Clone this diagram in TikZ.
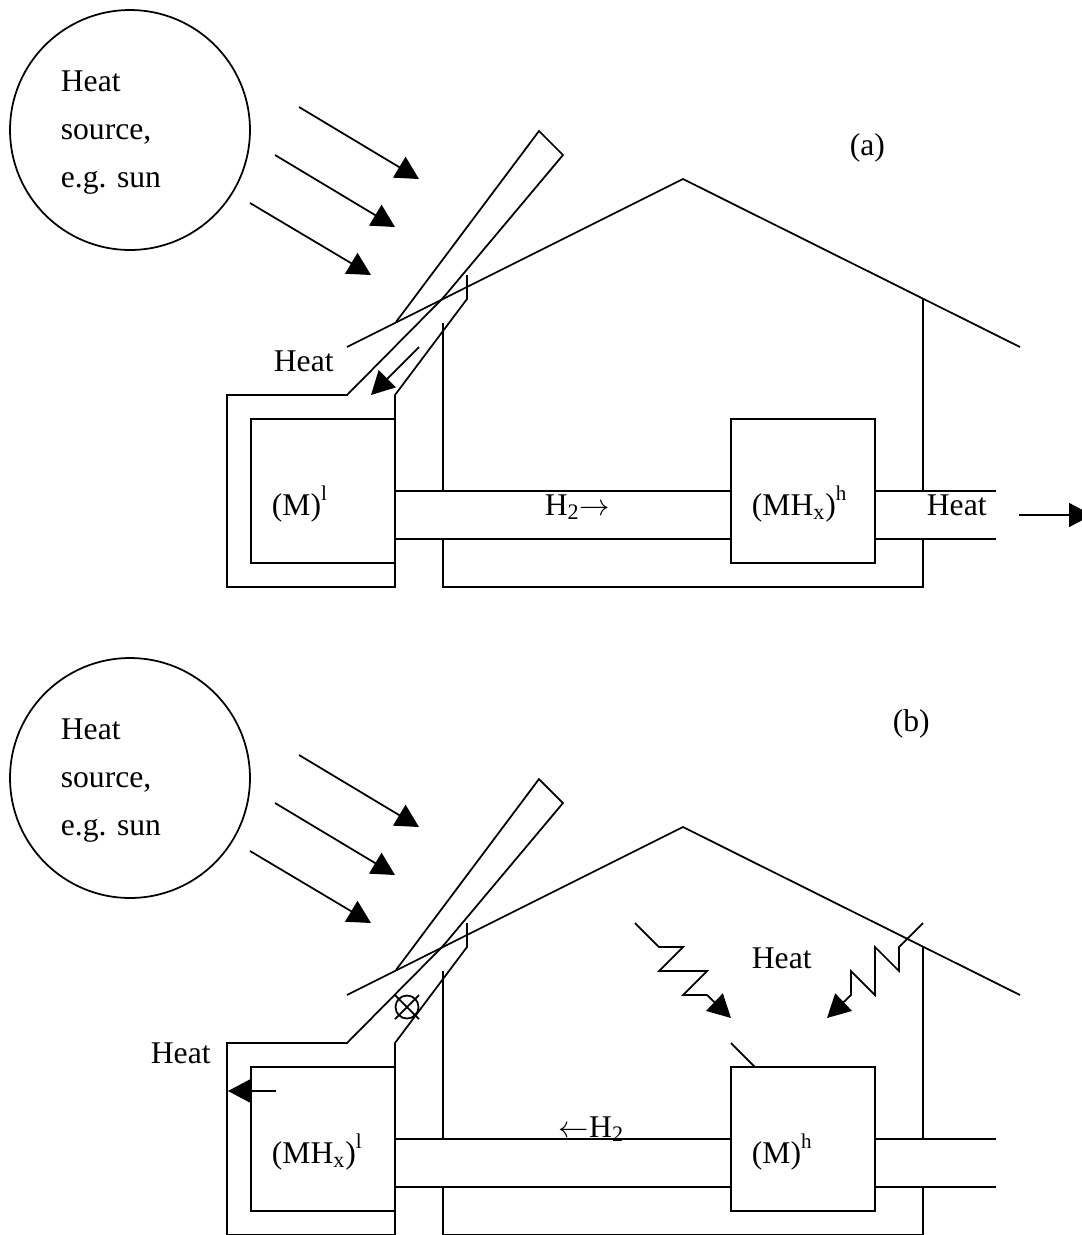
\documentclass[tikz,border=0pt]{standalone}
\usepackage{fontspec}
\setmainfont{Liberation Serif}
\usetikzlibrary{positioning,calc,arrows.meta}

\newcommand{\supr}[1]{\raisebox{8.5pt}{\fontsize{12}{12}\selectfont #1}}

\begin{document}
\begin{tikzpicture}[x=0.02cm,y=-0.02cm,line width=1pt,
    txt/.style={anchor=base west,inner sep=0pt,font=\fontsize{18}{22}\selectfont},
    box/.style={rectangle,draw,minimum width=2.88cm,minimum height=2.88cm,inner sep=0pt},
    ray/.style={-{Triangle[length=0.46cm,width=0.48cm]}}]

\clip (0,0) rectangle (1082,1235);

% Both panels
\foreach \i/\dy in {a/0,b/648} {
\begin{scope}[shift={(0,\dy)}]
    % Source
    \node[circle,draw,minimum size=4.8cm,inner sep=0pt] (src\i) at (130,130) {};
    \node[txt] (srcA\i) at (60,91) {Heat};
    \node[txt] (srcB\i) at (60,139) {source,};
    \node[txt] (srcC\i) at (60,187) {e.g. sun};

    % Rays
    \draw[ray] (299,107) -- (419,179);
    \draw[ray] (275,155) -- (395,227);
    \draw[ray] (250,203) -- (371,275);

    % Collector
    \draw (396,322) -- (539,131) -- (563,155) -- (443,298) -- (347,395)
        -- (227,395) -- (227,587) -- (395,587) -- (395,395) -- (467,299) -- (467,275);

    % House
    \draw (347,347) -- (683,179) -- (1020,347);
    \draw (443,323) -- (443,491);
    \draw (923,299) -- (923,491);
    \draw (443,539) -- (443,587) -- (923,587) -- (923,539);

    % Boxes
    \node[box] (boxL\i) at (323,491) {};
    \node[box] (boxH\i) at (803,491) {};

    % Pipes
    \draw (395,491) -- (731,491);
    \draw (395,539) -- (731,539);
    \draw (875,491) -- (996,491);
    \draw (875,539) -- (996,539);
\end{scope}
}

% Panel a
\node[txt] (tagA) at (849,155) {(a)};
\node[txt] (heatA) at (273,371) {Heat};
\node[txt] (heatR) at (926,515) {Heat};
\node[txt] (lowA) at (271,515) {(M)\supr{l}};
\node[txt] (highA) at (751,515) {(MH\textsubscript{x})\supr{h}};
\node[txt] (gasA) at (544,515) {H\textsubscript{2}$\rightarrow$};
\draw[ray] (419,347) -- (371,395);
\draw[ray] (1019,515) -- (1092,515);

% Panel b
\node[txt] (tagB) at (892,731) {(b)};
\node[txt] (heatL) at (150,1063) {Heat};
\node[txt] (heatM) at (751,968) {Heat};
\node[txt] (lowB) at (271,1163) {(MH\textsubscript{x})\supr{l}};
\node[txt] (highB) at (751,1163) {(M)\supr{h}};
\node[txt] (gasB) at (558,1137) {$\leftarrow$H\textsubscript{2}};
\draw[ray] (276,1091) -- (228,1091);
\draw[ray] (635,923) -- (659,947) -- (683,947) -- (659,971) -- (707,971) -- (683,995) -- (707,995) -- (731,1018);
\draw[ray] (923,923) -- (899,947) -- (899,971) -- (875,947) -- (875,995) -- (851,971) -- (851,995) -- (827,1018);
\draw (731,1043) -- (755,1067);

% Valve
\node[circle,draw,minimum size=0.46cm,inner sep=0pt] (valve) at (407,1007) {};
\draw (395,995) -- (419,1019);
\draw (395,1019) -- (419,995);

\end{tikzpicture}
\end{document}
